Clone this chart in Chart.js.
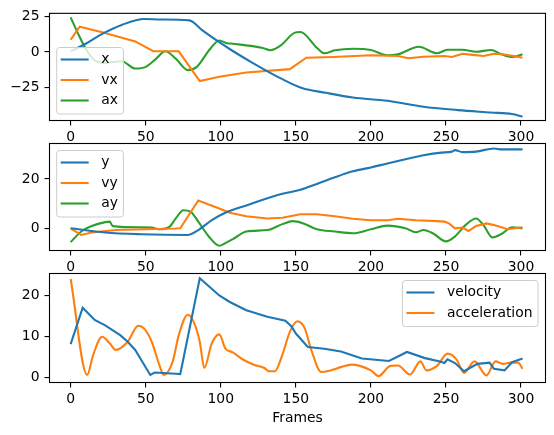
<!DOCTYPE html>
<html>
<head>
<meta charset="utf-8">
<script src="https://cdn.jsdelivr.net/npm/chart.js@4"></script>
<style>
  html, body { margin: 0; padding: 0; background: #fff; }
  #wrap { position: relative; width: 554px; height: 435px; }
  #wrap canvas { position: absolute; left: 0; top: 0; }
</style>
</head>
<body>
<div id="wrap">
  <canvas id="c1" width="554" height="435"></canvas>
  <canvas id="c2" width="554" height="435"></canvas>
  <canvas id="c3" width="554" height="435"></canvas>
</div>
<script>
// tick labels
const frameTicks = [0, 50, 100, 150, 200, 250, 300];
const ticks1 = [-25, 0, 25];
const ticks2 = [0, 20];
const ticks3 = [0, 10, 20];

// panel 1: x, vx, ax
const xFrames = [0, 10, 21, 34, 49, 60, 79, 88, 99, 108, 122, 140, 154, 170, 188, 211, 235, 258, 280, 294, 301];
const xValues = [0.5, 5.8, 12.7, 19, 23.1, 22.8, 22.2, 15, 6.9, 0.7, -8.1, -18.5, -25.2, -28.6, -31.9, -34.2, -38.4, -40.7, -42.4, -43.5, -45.3];
const vxFrames = [0, 6, 21, 43, 55, 72, 86, 99, 117, 146, 157, 175, 200, 218, 225, 235, 249, 254, 261, 268, 275, 282, 289, 296, 301];
const vxValues = [8.6, 17.8, 13.9, 7.4, 0.5, 0.5, -20.4, -17.4, -14.4, -12, -4, -3.5, -2.3, -2.8, -4.4, -3.3, -2.8, -3.5, -1.2, -2, -2.8, -1.2, -1.8, -3, -4];
const axFrames = [0, 5, 10, 16, 23, 34, 43, 50, 57, 63, 70, 78, 84, 93, 99, 104, 108, 128, 133, 140, 149, 153, 164, 169, 176, 188, 200, 211, 218, 232, 244, 251, 261, 270, 280, 287, 294, 301];
const axValues = [24.3, 12.7, 2.3, -5.8, -7.6, -6.5, -11.6, -10.4, -4.6, 0.5, -4.6, -12.7, -10.4, 2.3, 8.1, 6.2, 5.8, 2.8, 1.2, 4.6, 13.4, 14, 3, -0.9, 1.2, 2.3, 1.4, -2.3, -1.6, 3.7, -0.9, 1.6, 1.6, 0.2, 1.4, -1.6, -3.5, -1.6];

// panel 2: y, vy, ay
const yFrames = [0, 23, 47, 78, 85, 94, 103, 117, 141, 153, 164, 176, 188, 200, 211, 223, 235, 247, 254, 256, 261, 270, 282, 287, 301];
const yValues = [0, -1.7, -2.4, -2.7, -0.7, 3.3, 6.3, 9.3, 14, 15.6, 18, 20.7, 23.1, 24.7, 26.3, 28, 29.6, 30.7, 31.1, 31.7, 30.9, 31.1, 32.4, 32, 32];
const vyFrames = [0, 7, 14, 30, 70, 73, 85, 99, 106, 117, 131, 141, 153, 164, 176, 188, 200, 211, 218, 230, 244, 249, 252, 256, 261, 265, 270, 277, 282, 287, 291, 301];
const vyValues = [0, -2.7, -1.7, -0.7, -0.1, 0, 11.3, 8, 6.3, 4.9, 4, 4.3, 5.7, 5.7, 4.9, 3.9, 3.3, 3.3, 3.9, 3.3, 2.9, 2.7, 2, 0, 0.3, -1.1, 0.9, 2, 1.3, 0.4, -0.4, 0.4];
const ayFrames = [0, 7, 14, 23, 26, 28, 47, 54, 59, 66, 70, 75, 80, 85, 92, 99, 103, 108, 117, 131, 141, 148, 155, 164, 176, 188, 200, 211, 223, 230, 235, 242, 250, 256, 263, 270, 275, 281, 287, 294, 301];
const ayValues = [-5.6, -1.3, 0.9, 2.5, 2.7, 0.9, 0.4, 0.3, -0.4, 0.7, 4, 7.3, 6.7, 2.7, -3.3, -7.1, -6, -4.4, -1.3, -0.7, 1.7, 2.9, 2, -0.4, -1.3, -2, -0.4, 1.1, 0, -1.6, -0.7, -2.3, -5.3, -3.3, 1.3, 4, 1.3, -3.7, -2.3, 0.4, 0];

// panel 3: velocity, acceleration
const velFrames = [0, 8, 16, 23, 33, 38, 43, 53, 56, 70, 73, 86, 99, 106, 117, 131, 143, 147, 150, 158, 169, 180, 194, 212, 218, 224, 236, 246, 249, 251, 256, 262, 271, 279, 282, 289, 294, 301];
const velValues = [8.1, 17, 14, 12.7, 10.3, 8.7, 6.7, 0.6, 1.2, 0.9, 0.8, 24.2, 20, 18.4, 16.4, 14.8, 13.8, 12.5, 10.7, 7.4, 7, 6.3, 4.6, 4, 5.1, 6.2, 4.7, 3.9, 3.5, 4.4, 3.5, 1.5, 3.3, 3.6, 2.1, 1.7, 3.7, 4.6];
const accFrames = [0, 11, 15, 21, 26, 30, 38, 45, 49, 54, 59, 62, 68, 72, 78, 82, 86, 89, 94, 99, 103, 108, 115, 122, 129, 132, 136, 141, 146, 151, 156, 160, 167, 173, 180, 187, 200, 205, 213, 218, 226, 233, 237, 244, 251, 257, 262, 269, 277, 283, 288, 293, 298, 301];
const accValues = [24, 0.6, 5.5, 9.9, 8.3, 6.7, 8.7, 12.6, 11.9, 8.7, 3.1, 0.6, 3.9, 10.3, 15.3, 13.5, 8.7, 2.3, 8.3, 10.5, 7.1, 6.1, 4.3, 3.1, 2.3, 1.5, 1.5, 5.5, 11.1, 13.7, 11.9, 7, 1.3, 1.7, 2.5, 3.1, 1.7, 0.3, 2.8, 2.9, 0.7, 3.9, 1.7, 2.8, 5.8, 4.4, 1.1, 3.9, 0.5, 3.9, 3.3, 3.6, 3.6, 2.1];

const BLUE = '#1f77b4', ORANGE = '#ff7f0e', GREEN = '#2ca02c';
const FONT = 'DejaVu Sans';

// axes box (spines) on top of the lines
const frameBox = {
    id: 'frameBox',
    afterDatasetsDraw(chart) {
        const {ctx, chartArea: a} = chart;
        ctx.save();
        ctx.strokeStyle = '#000';
        ctx.lineWidth = 1.1;
        ctx.strokeRect(a.left, a.top, a.right - a.left, a.bottom - a.top);
        ctx.restore();
    }
};

// matplotlib-like legend box drawn inside the plot area
const boxLegend = {
    id: 'boxLegend',
    afterDraw(chart, args, o) {
        const {ctx, chartArea: a} = chart;
        const items = chart.data.datasets;
        ctx.save();
        ctx.font = '13.9px "' + FONT + '"';
        const textW = Math.max(...items.map(d => ctx.measureText(d.label).width));
        const w = 44.5 + textW + 5.5;
        const h = 5 + items.length * 20.5;
        const x = o.align === 'right' ? a.right - 7.5 - w : a.left + 7.2;
        const y = o.valign === 'bottom' ? a.bottom - 6.5 - h : a.top + 7;
        const r = 3;
        ctx.beginPath();
        ctx.moveTo(x + r, y);
        ctx.arcTo(x + w, y, x + w, y + h, r);
        ctx.arcTo(x + w, y + h, x, y + h, r);
        ctx.arcTo(x, y + h, x, y, r);
        ctx.arcTo(x, y, x + w, y, r);
        ctx.closePath();
        ctx.fillStyle = 'rgba(255,255,255,0.8)';
        ctx.fill();
        ctx.strokeStyle = '#cccccc';
        ctx.lineWidth = 1;
        ctx.stroke();
        items.forEach((d, i) => {
            const cy = y + 12 + i * 20.5;
            ctx.beginPath();
            ctx.moveTo(x + 4, cy);
            ctx.lineTo(x + 32, cy);
            ctx.strokeStyle = d.borderColor;
            ctx.lineWidth = 2.1;
            ctx.stroke();
            ctx.fillStyle = '#000';
            ctx.textBaseline = 'middle';
            ctx.textAlign = 'left';
            ctx.fillText(d.label, x + 44.5, cy);
        });
        ctx.restore();
    }
};

function minusLabel(v) {
    return v < 0 ? '\u2212' + Math.abs(v) : String(v);
}

function makePanel(id, series, yMin, yMax, yTicks, padTop, padBottom, legendPos, xTitle) {
    new Chart(document.getElementById(id), {
        type: 'line',
        data: {
            datasets: series.map(s => ({
                label: s.label,
                data: s.frames.map((f, i) => ({x: f, y: s.values[i]})),
                borderColor: s.color,
                borderWidth: 2.1,
                pointRadius: 0,
                fill: false,
                tension: 0,
                cubicInterpolationMode: s.smooth ? 'monotone' : 'default'
            }))
        },
        options: {
            responsive: false,
            animation: false,
            layout: { padding: { top: padTop, right: 8.5, bottom: padBottom, left: 0 } },
            plugins: {
                legend: { display: false },
                tooltip: { enabled: false },
                boxLegend: legendPos
            },
            scales: {
                x: {
                    type: 'linear',
                    min: -14.1,
                    max: 316.3,
                    afterBuildTicks: s => { s.ticks = frameTicks.map(v => ({value: v})); },
                    afterFit: s => { s.height = xTitle ? 50 : 30; },
                    border: { display: false },
                    grid: { drawOnChartArea: false, tickLength: 5, tickColor: '#000', tickWidth: 1.1, lineWidth: 1.1 },
                    ticks: { color: '#000', font: { family: FONT, size: 13.9 }, padding: 4, maxRotation: 0, autoSkip: false },
                    title: {
                        display: !!xTitle,
                        text: xTitle || '',
                        color: '#000',
                        font: { family: FONT, size: 13.9 },
                        padding: { top: 0, bottom: 6 }
                    }
                },
                y: {
                    min: yMin,
                    max: yMax,
                    afterBuildTicks: s => { s.ticks = yTicks.map(v => ({value: v})); },
                    afterFit: s => { s.width = 49.5; },
                    border: { display: false },
                    grid: { drawOnChartArea: false, tickLength: 5, tickColor: '#000', tickWidth: 1.1, lineWidth: 1.1 },
                    ticks: { color: '#000', font: { family: FONT, size: 13.9 }, padding: 5, callback: minusLabel }
                }
            }
        },
        plugins: [frameBox, boxLegend]
    });
}

makePanel('c1', [
    { label: 'x', frames: xFrames, values: xValues, color: BLUE, smooth: true },
    { label: 'vx', frames: vxFrames, values: vxValues, color: ORANGE, smooth: false },
    { label: 'ax', frames: axFrames, values: axValues, color: GREEN, smooth: true }
], -48, 27.1, ticks1, 12.5, 284.5, { align: 'left', valign: 'bottom' });

makePanel('c2', [
    { label: 'y', frames: yFrames, values: yValues, color: BLUE, smooth: true },
    { label: 'vy', frames: vyFrames, values: vyValues, color: ORANGE, smooth: false },
    { label: 'ay', frames: ayFrames, values: ayValues, color: GREEN, smooth: true }
], -9.0, 34.4, ticks2, 143.5, 154.5, { align: 'left', valign: 'top' });

makePanel('c3', [
    { label: 'velocity', frames: velFrames, values: velValues, color: BLUE, smooth: false },
    { label: 'acceleration', frames: accFrames, values: accValues, color: ORANGE, smooth: true }
], -1.25, 25.35, ticks3, 273.5, 2.5, { align: 'right', valign: 'top' }, 'Frames');
</script>
</body>
</html>
